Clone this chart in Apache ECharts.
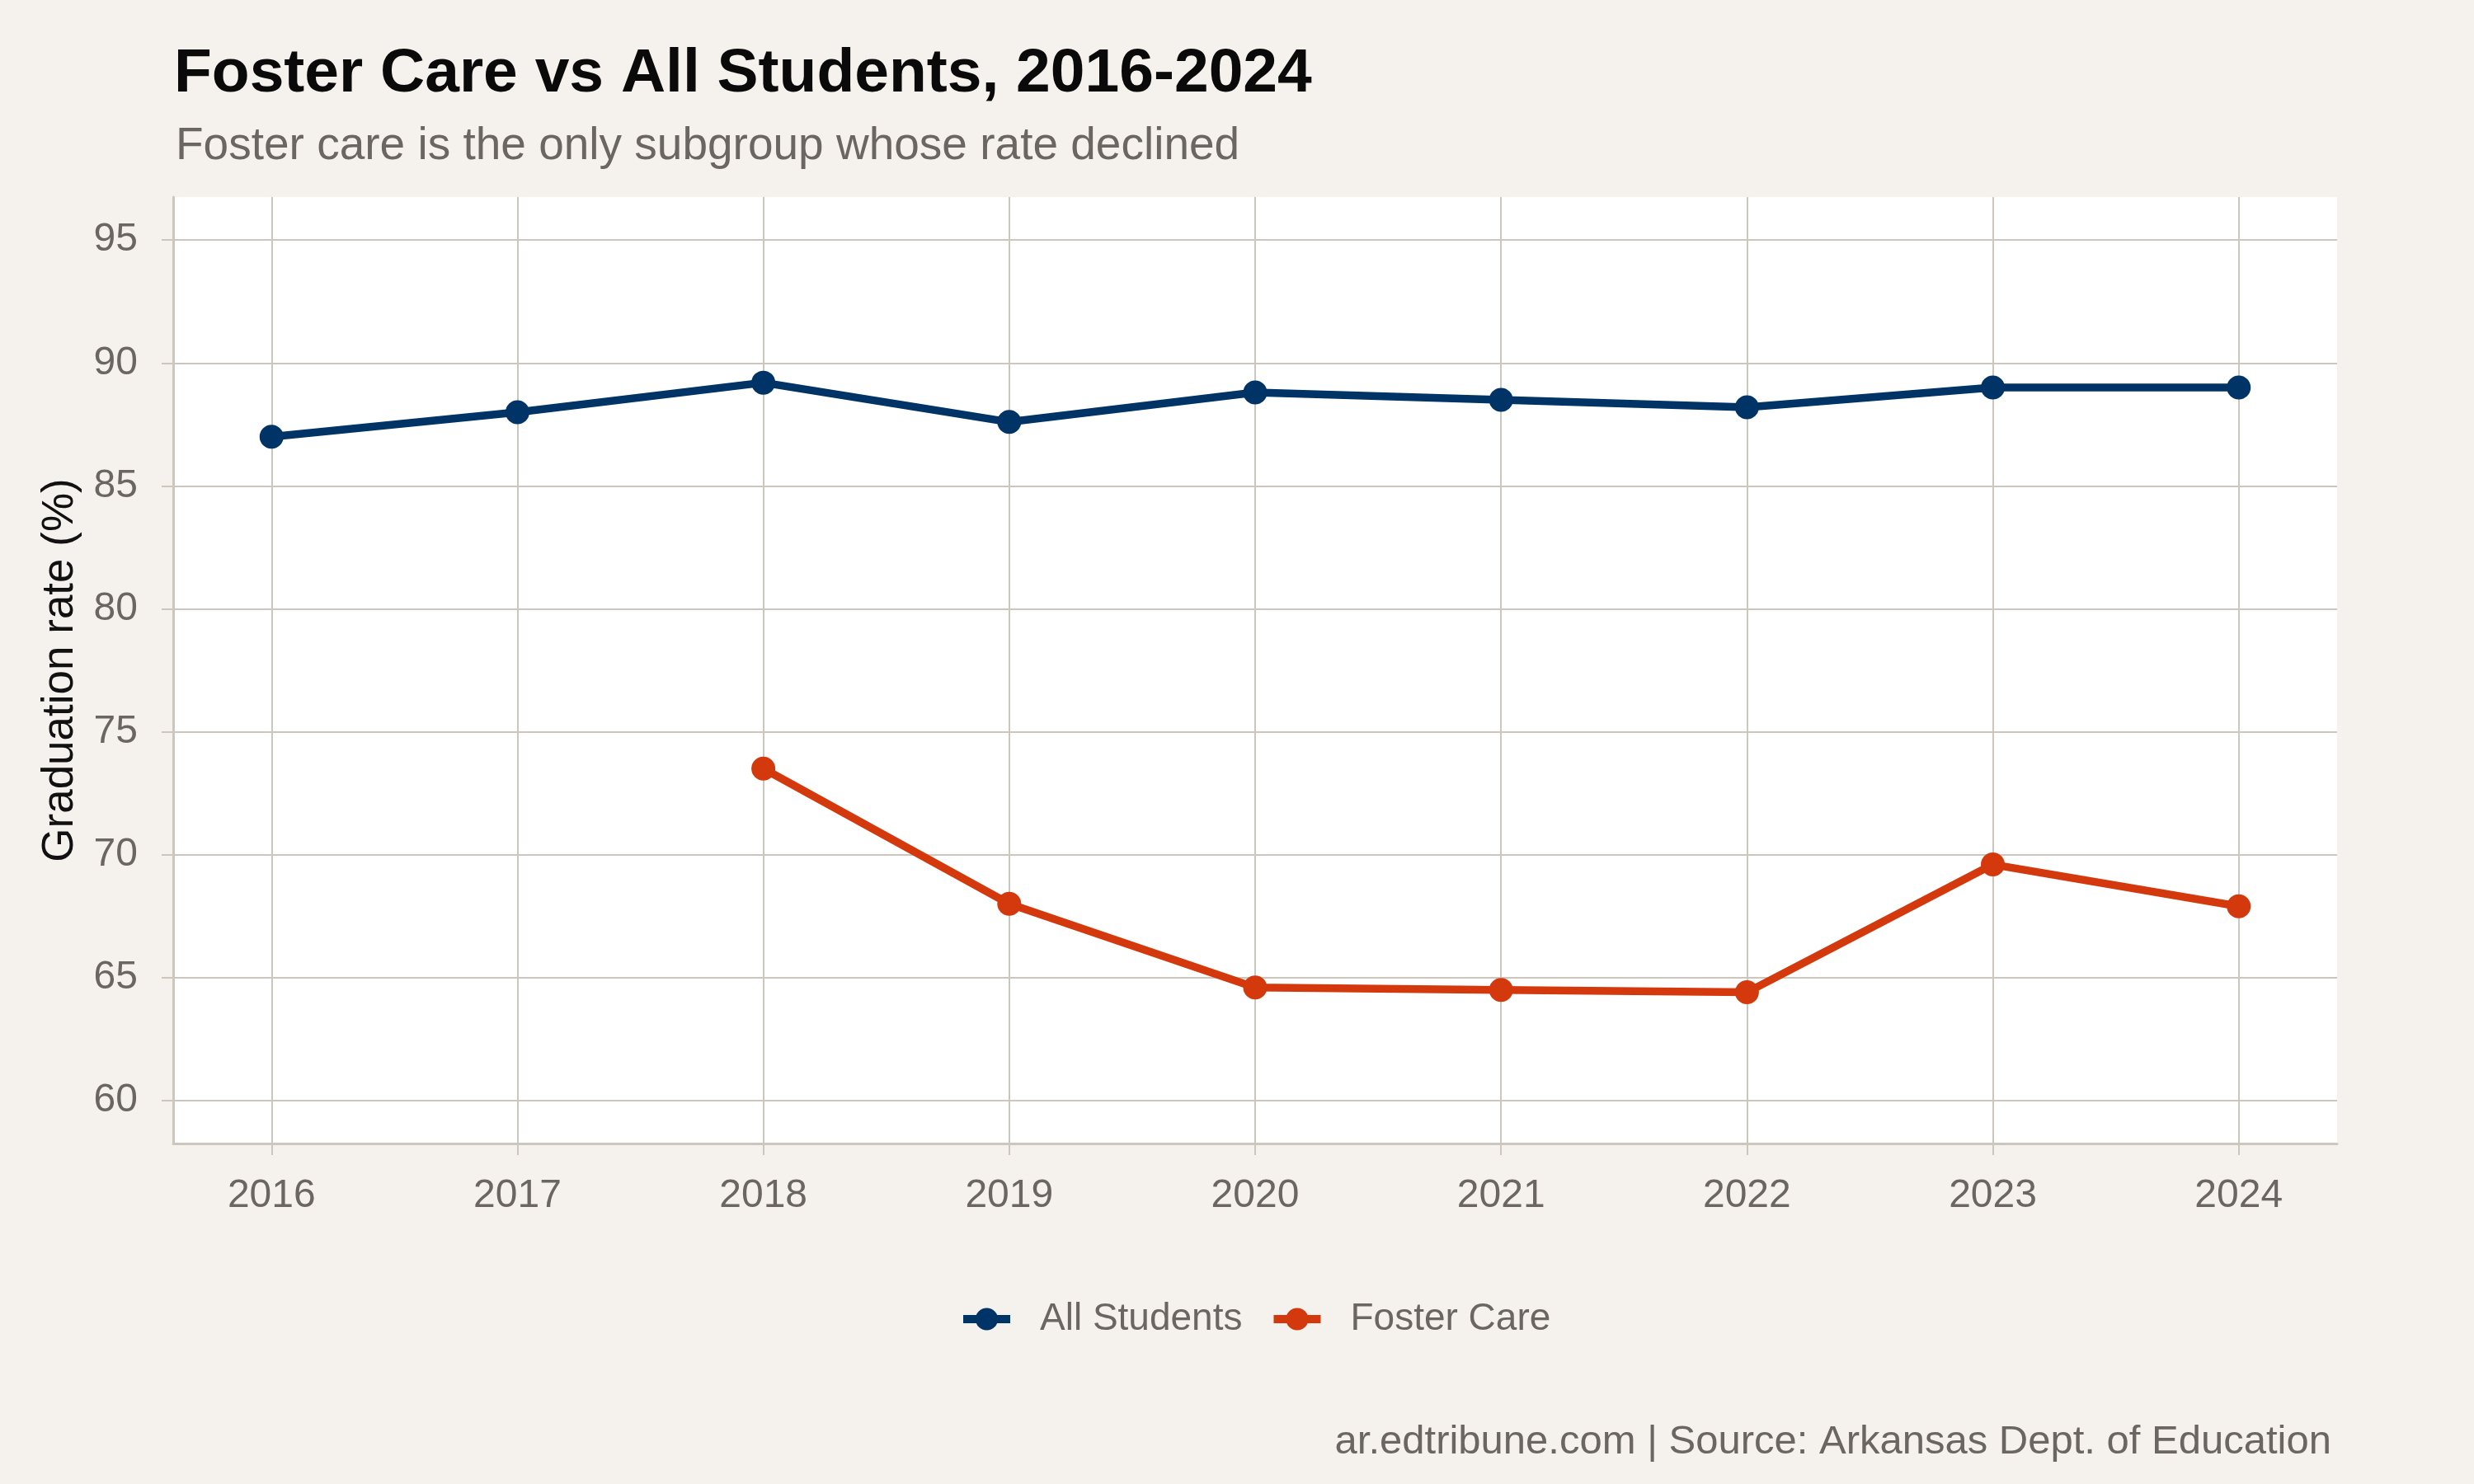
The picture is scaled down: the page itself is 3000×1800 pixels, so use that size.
<!DOCTYPE html>
<html>
<head>
<meta charset="utf-8">
<script src="https://cdn.jsdelivr.net/npm/echarts@6/dist/echarts.min.js"></script>
<style>
html,body{margin:0;padding:0;background:#f5f2ed;}
#chart{width:3000px;height:1800px;}
</style>
</head>
<body>
<div id="chart"></div>
<script>
var years = [2016, 2017, 2018, 2019, 2020, 2021, 2022, 2023, 2024];
var allStudents = [87.0, 88.0, 89.2, 87.6, 88.8, 88.5, 88.2, 89.0, 89.0];
var fosterYears = [2018, 2019, 2020, 2021, 2022, 2023, 2024];
var fosterCare = [73.5, 68.0, 64.6, 64.5, 64.4, 69.6, 67.9];
var yTicks = [60, 65, 70, 75, 80, 85, 90, 95];

var FONT = '"Liberation Sans", Arial, Helvetica, sans-serif';
var GRID = '#cdc6bc';
var GRAY = '#6b6661';
var NAVY = '#003366';
var ORANGE = '#d4380d';

function pairs(xs, ys) { return xs.map(function (x, i) { return [x, ys[i]]; }); }

var chart = echarts.init(document.getElementById('chart'), null, {renderer: 'canvas'});
chart.setOption({
  backgroundColor: '#f5f2ed',
  animation: false,
  title: [
    {text: 'Foster Care vs All Students, 2016-2024', left: 206, top: 48,
     textStyle: {fontFamily: FONT, fontSize: 75, fontWeight: 'bold', color: '#0a0a0a', lineHeight: 75}},
    {text: 'Foster care is the only subgroup whose rate declined', left: 208, top: 145,
     textStyle: {fontFamily: FONT, fontSize: 55, fontWeight: 'normal', color: GRAY, lineHeight: 55}},
    {text: 'ar.edtribune.com | Source: Arkansas Dept. of Education', right: 168, top: 1720,
     textStyle: {fontFamily: FONT, fontSize: 49, fontWeight: 'normal', color: GRAY, lineHeight: 49}}
  ],
  legend: {
    left: 1158, top: 1572,
    itemWidth: 57, itemHeight: 34, itemGap: 33,
    lineStyle: {width: 10},
    textStyle: {fontFamily: FONT, fontSize: 46, color: GRAY, padding: [0, 0, 0, 31]},
    data: ['All Students', 'Foster Care']
  },
  grid: {left: 210, right: 166, top: 239, bottom: 413, show: true, backgroundColor: '#ffffff', borderWidth: 0},
  xAxis: {
    type: 'value', min: 2015.6, max: 2024.4,
    axisLine: {show: true, lineStyle: {color: GRID, width: 3}},
    axisTick: {show: true, length: 14, lineStyle: {color: GRID, width: 2}, customValues: years},
    axisLabel: {fontFamily: FONT, fontSize: 48, color: GRAY, margin: 40, customValues: years,
                formatter: function (v) { return String(v); }},
    splitLine: {show: true, lineStyle: {color: GRID, width: 2}}
  },
  yAxis: {
    type: 'value', min: 58.25, max: 96.75,
    name: 'Graduation rate (%)', nameLocation: 'middle', nameGap: 110,
    nameTextStyle: {fontFamily: FONT, fontSize: 53, color: '#111111'},
    axisLine: {show: true, lineStyle: {color: GRID, width: 3}},
    axisTick: {show: true, length: 14, lineStyle: {color: GRID, width: 2}, customValues: yTicks},
    axisLabel: {fontFamily: FONT, fontSize: 48, color: GRAY, margin: 43, customValues: yTicks},
    splitLine: {show: true, lineStyle: {color: GRID, width: 2}}
  },
  series: [
    {name: 'All Students', type: 'line', data: pairs(years, allStudents),
     symbol: 'circle', symbolSize: 29, lineStyle: {color: NAVY, width: 9.5}, itemStyle: {color: NAVY}},
    {name: 'Foster Care', type: 'line', data: pairs(fosterYears, fosterCare),
     symbol: 'circle', symbolSize: 29, lineStyle: {color: ORANGE, width: 9.5}, itemStyle: {color: ORANGE}}
  ]
});
</script>
</body>
</html>
